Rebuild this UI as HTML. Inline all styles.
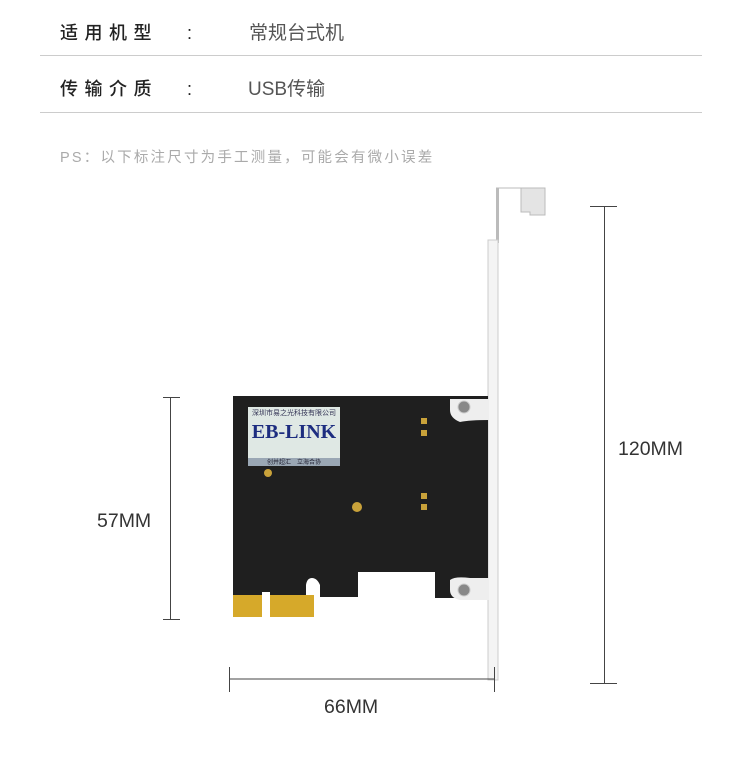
<!DOCTYPE html>
<html><head><meta charset="utf-8"><style>
body{margin:0;width:750px;height:761px;background:#fff;position:relative;overflow:hidden;font-family:"Liberation Sans","Noto Sans CJK SC",sans-serif}
.a{position:absolute;white-space:nowrap}
.lab{font-size:18px;color:#222;letter-spacing:6.5px;font-weight:500}
.val{font-size:19px;color:#555}
.ln{position:absolute;background:#ccc;height:1px;left:40px;width:662px}
.dim{font-size:19.5px;color:#333}
</style></head><body>
<div class="a lab" style="left:60px;top:19px">适用机型</div>
<div class="a lab" style="left:187px;top:23px">:</div>
<div class="a val" style="left:249px;top:18px">常规台式机</div>
<div class="ln" style="top:55px"></div>
<div class="a lab" style="left:60px;top:75px">传输介质</div>
<div class="a lab" style="left:187px;top:79px">:</div>
<div class="a val" style="left:248px;top:74px">USB传输</div>
<div class="ln" style="top:112px"></div>
<div class="a" style="left:60px;top:146px;font-size:14.5px;color:#aaa;letter-spacing:2.2px">PS：以下标注尺寸为手工测量，可能会有微小误差</div>

<svg class="a" style="left:0;top:0" width="750" height="761">
<!-- bracket -->
<path d="M496,188 H545 V215 H530 V212 H521 V188 Z" fill="#e4e4e4" stroke="#bbb"/>
<rect x="496" y="188" width="3" height="55" fill="#bbb"/>
<rect x="488" y="240" width="10" height="440" fill="#f4f4f4" stroke="#ccc"/>
<!-- board -->
<path d="M233,396 H488 V598 H435 V572 H358 V597 H320 V585 Q317,578 312,578 Q307,578 306,585 V598 H233 Z" fill="#1f1f1f"/>
<rect x="233" y="595" width="29" height="22" fill="#d6a92a"/>
<rect x="270" y="595" width="44" height="22" fill="#d6a92a"/>
<rect x="262" y="592" width="8" height="26" fill="#fff"/>
<!-- ears -->
<path d="M450,399 H489 V420 Q470,420 460,422 Q450,418 450,410 Z" fill="#eee"/>
<circle cx="464" cy="407" r="6" fill="#888" stroke="#ccc"/>
<path d="M450,580 Q455,576 470,578 H489 V600 H460 Q450,598 450,590 Z" fill="#eee"/>
<circle cx="464" cy="590" r="6" fill="#888" stroke="#ccc"/>
<circle cx="357" cy="507" r="5" fill="#c9a23a"/><circle cx="268" cy="473" r="4" fill="#c9a23a"/>
<rect x="421" y="418" width="6" height="6" fill="#c9a23a"/><rect x="421" y="430" width="6" height="6" fill="#c9a23a"/>
<rect x="421" y="493" width="6" height="6" fill="#c9a23a"/><rect x="421" y="504" width="6" height="6" fill="#c9a23a"/>
<!-- label -->
<rect x="248" y="407" width="92" height="58" fill="#dfe8e4"/>
<rect x="248" y="458" width="92" height="8" fill="#9aa7b4"/>
<text x="294" y="415" font-size="7" fill="#335" text-anchor="middle">深圳市易之光科技有限公司</text>
<text x="294" y="438" font-size="20" font-weight="bold" font-family="Liberation Serif" fill="#1d2d80" text-anchor="middle">EB-LINK</text>
<text x="294" y="464" font-size="6" fill="#223" text-anchor="middle">创并超汇　立海合协</text>
<!-- dims -->
<g stroke="#444" stroke-width="1">
<line x1="229" y1="679" x2="494" y2="679"/><line x1="229.5" y1="667" x2="229.5" y2="692"/><line x1="494.5" y1="667" x2="494.5" y2="692"/>
<line x1="170.5" y1="397" x2="170.5" y2="620"/><line x1="163" y1="397.5" x2="180" y2="397.5"/><line x1="163" y1="619.5" x2="180" y2="619.5"/>
<line x1="604.5" y1="206" x2="604.5" y2="683"/><line x1="590" y1="206.5" x2="617" y2="206.5"/><line x1="590" y1="683.5" x2="617" y2="683.5"/>
</g>
</svg>
<div class="a dim" style="left:324px;top:696px">66MM</div>
<div class="a dim" style="left:97px;top:510px">57MM</div>
<div class="a dim" style="left:618px;top:438px">120MM</div>
</body></html>
